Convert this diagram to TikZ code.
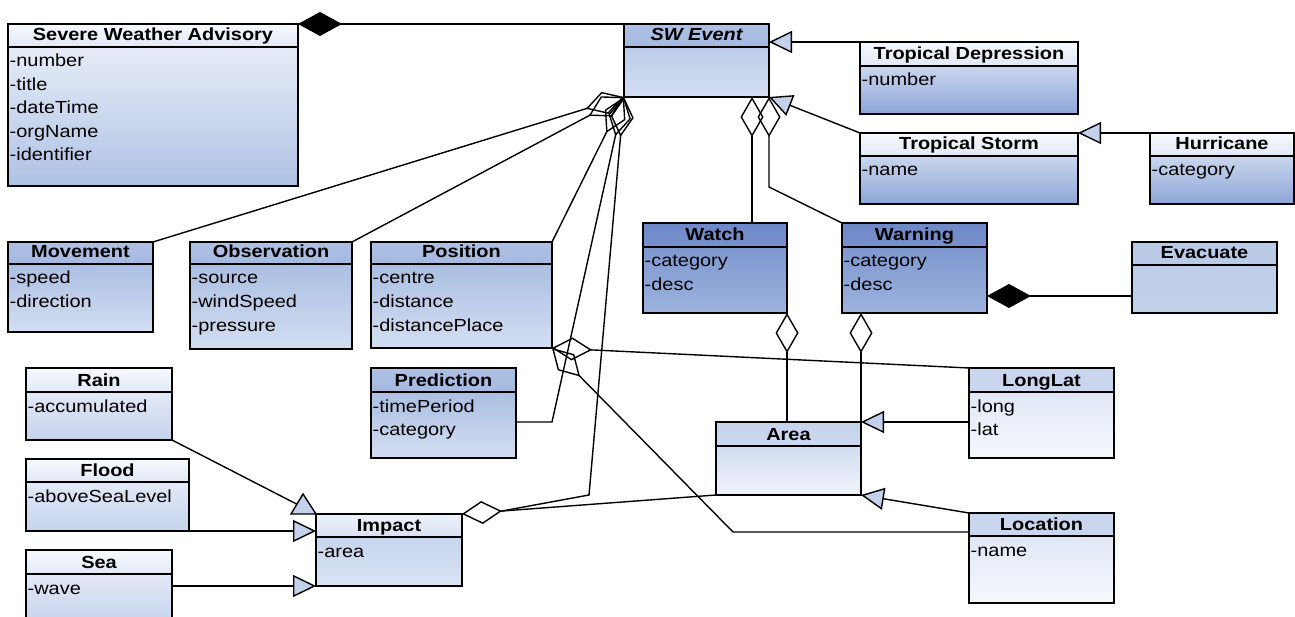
\documentclass[tikz,border=0pt]{standalone}
\usepackage{fontspec}
\setmainfont{Liberation Sans}[FakeStretch=1.14]
\usetikzlibrary{arrows.meta,fit,calc}

\definecolor{hwTop}{HTML}{F7F9FD}\definecolor{hwBot}{HTML}{E1E8F5}
\definecolor{swaTop}{HTML}{E6ECF7}\definecolor{swaBot}{HTML}{AFC2E4}
\definecolor{tdTop}{HTML}{CAD6EE}\definecolor{tdBot}{HTML}{8DA6D8}
\definecolor{midHTop}{HTML}{AEC0E3}\definecolor{midHBot}{HTML}{A5B9E0}
\definecolor{midTop}{HTML}{ABBEE2}\definecolor{midBot}{HTML}{D3DEF1}
\definecolor{sweTop}{HTML}{BCCCE9}\definecolor{sweBot}{HTML}{D3DEF1}
\definecolor{dkHTop}{HTML}{6F88C8}\definecolor{dkHBot}{HTML}{7890CB}
\definecolor{dkTop}{HTML}{7E98CF}\definecolor{dkBot}{HTML}{9DB2DD}
\definecolor{evH}{HTML}{BACBE8}\definecolor{evTop}{HTML}{BDCDE9}\definecolor{evBot}{HTML}{C2D1EA}
\definecolor{rfTop}{HTML}{E3E9F6}\definecolor{rfBot}{HTML}{C5D3EC}
\definecolor{imHTop}{HTML}{EEF2FA}\definecolor{imHBot}{HTML}{D8E1F3}
\definecolor{imTop}{HTML}{C7D5ED}\definecolor{imBot}{HTML}{DAE3F3}
\definecolor{arHTop}{HTML}{C4D3EC}\definecolor{arHBot}{HTML}{CCD8EF}
\definecolor{arTop}{HTML}{D2DDF1}\definecolor{arBot}{HTML}{F1F4FA}
\definecolor{llH}{HTML}{C9D6EE}\definecolor{llTop}{HTML}{E0E7F5}\definecolor{llBot}{HTML}{F5F7FC}
\definecolor{triblue}{HTML}{C3D1EB}

\tikzset{
  hW/.style={top color=hwTop,bottom color=hwBot},
  bSWA/.style={top color=swaTop,bottom color=swaBot},
  bTD/.style={top color=tdTop,bottom color=tdBot},
  hMid/.style={top color=midHTop,bottom color=midHBot},
  bMid/.style={top color=midTop,bottom color=midBot},
  bSWE/.style={top color=sweTop,bottom color=sweBot},
  hDk/.style={top color=dkHTop,bottom color=dkHBot},
  bDk/.style={top color=dkTop,bottom color=dkBot},
  hEv/.style={top color=evH,bottom color=evH},
  bEv/.style={top color=evTop,bottom color=evBot},
  bRF/.style={top color=rfTop,bottom color=rfBot},
  hIm/.style={top color=imHTop,bottom color=imHBot},
  bIm/.style={top color=imTop,bottom color=imBot},
  hAr/.style={top color=arHTop,bottom color=arHBot},
  bAr/.style={top color=arTop,bottom color=arBot},
  hLL/.style={top color=llH,bottom color=llH},
  bLL/.style={top color=llTop,bottom color=llBot},
  boxframe/.style={draw=black,line width=1.6pt,inner sep=0pt,outer sep=0pt},
  divline/.style={draw=black,line width=1.3pt},
  titletext/.style={font=\fontsize{17.5}{20}\selectfont\bfseries,inner sep=0pt},
  attrtext/.style={font=\fontsize{17.5}{20}\selectfont,inner sep=0pt},
  conn/.style={draw=black,line width=1.4pt},
  gen/.style={conn,-{Triangle[length=23pt,width=22pt,fill=triblue]}},
  agg/.style={conn,-{Diamond[open,length=40pt,width=23pt]}},
  comp/.style={conn,-{Diamond[length=44pt,width=24pt]}},
  tri/.style={draw=black,line width=1.4pt,fill=triblue},
}

\newcommand\classbox[9]{%
  \shade[#7] (#2,#3) rectangle (#4,#6);
  \shade[#8] (#2,#6) rectangle (#4,#5);
  \draw[divline] (#2,#6) -- (#4,#6);
  \node[boxframe, fit={(#2,#3) (#4,#5)}] (#1) {};
  \node[titletext, anchor=base] (#1-t) at ({(#2+#4)/2},{#6-6}) {#9};
}
\newcommand\attrs[4]{%
  \foreach \t [count=\i from 0] in {#4}
    \node[attrtext, anchor=base west] (#1-a\i) at ({#2+1.5},{#3+20+23.5*\i}) {\t};
}

\begin{document}
\begin{tikzpicture}[x=1pt,y=-1pt]
\useasboundingbox (0,0) rectangle (1295,617);

% classes
\classbox{swa}{8}{24}{298}{186}{47}{hW}{bSWA}{Severe Weather Advisory}
\attrs{swa}{8}{47}{-number,-title,-dateTime,-orgName,-identifier}
\classbox{swe}{624}{24}{769}{97}{47}{hMid}{bSWE}{\itshape SW Event}
\classbox{td}{860}{42}{1078}{114}{66}{hW}{bTD}{Tropical Depression}
\attrs{td}{860}{66}{-number}
\classbox{ts}{860}{133}{1078}{204}{156}{hW}{bTD}{Tropical Storm}
\attrs{ts}{860}{156}{-name}
\classbox{hur}{1150}{133}{1294}{204}{156}{hW}{bTD}{Hurricane}
\attrs{hur}{1150}{156}{-category}
\classbox{mov}{8}{242}{153}{332}{264}{hMid}{bMid}{Movement}
\attrs{mov}{8}{264}{-speed,-direction}
\classbox{obs}{190}{242}{352}{349}{264}{hMid}{bMid}{Observation}
\attrs{obs}{190}{264}{-source,-windSpeed,-pressure}
\classbox{pos}{371}{242}{552}{348}{264}{hMid}{bMid}{Position}
\attrs{pos}{371}{264}{-centre,-distance,-distancePlace}
\classbox{watch}{643}{223}{787}{313}{247}{hDk}{bDk}{Watch}
\attrs{watch}{643}{247}{-category,-desc}
\classbox{warn}{842}{223}{987}{313}{247}{hDk}{bDk}{Warning}
\attrs{warn}{842}{247}{-category,-desc}
\classbox{evac}{1132}{242}{1277}{313}{265}{hEv}{bEv}{Evacuate}
\classbox{rain}{26}{368}{172}{440}{392}{hW}{bRF}{Rain}
\attrs{rain}{26}{392}{-accumulated}
\classbox{pred}{371}{368}{516}{458}{392}{hMid}{bMid}{Prediction}
\attrs{pred}{371}{392}{-timePeriod,-category}
\classbox{longlat}{969}{368}{1114}{458}{392}{hLL}{bLL}{LongLat}
\attrs{longlat}{969}{392}{-long,-lat}
\classbox{area}{716}{422}{861}{495}{446}{hAr}{bAr}{Area}
\classbox{flood}{26}{459}{189}{531}{482}{hW}{bRF}{Flood}
\attrs{flood}{26}{482}{-aboveSeaLevel}
\classbox{impact}{316}{514}{462}{586}{537}{hIm}{bIm}{Impact}
\attrs{impact}{316}{537}{-area}
\classbox{sea}{26}{550}{172}{625}{574}{hW}{bRF}{Sea}
\attrs{sea}{26}{574}{-wave}
\classbox{loc}{969}{513}{1114}{603}{536}{hLL}{bLL}{Location}
\attrs{loc}{969}{536}{-name}

% helper coordinates
\coordinate (wkA) at (589,495);
\coordinate (wkB) at (552,422);
\coordinate (wkC) at (733,532);

% connectors
\draw[comp] (swe.north west) -- (swa.north east);
\draw[gen] (td.north west) -- (td.north west -| swe.east);
\draw[gen] (ts.north west) -- (swe.south east);
\draw[gen] (hur.north west) -- (ts.north east);
\draw[agg] (watch.north -| 752,0) -- (swe.south -| 752,0);
\draw[agg] (warn.north west) -- (swe.south east |- 0,187) -- (swe.south east);
\draw[agg] (watch.south east |- area.north) -- (watch.south east);
\draw[agg] (area.north east) -- (area.north east |- warn.south);
\draw[comp] (evac.west |- 0,296) -- (warn.east |- 0,296);
\draw[gen] (longlat.west |- area.north) -- (area.north east);
\draw[gen] (loc.north west) -- (area.south east);
\draw[agg] (longlat.north west) -- (pos.south east);
\draw[agg] (loc.west |- wkC) -- (wkC) -- (pos.south east);
\draw[agg] (mov.north east) -- (swe.south west);
\draw[agg] (obs.north east) -- (swe.south west);
\draw[agg] (pos.north east) -- (swe.south west);
\draw[agg] (pred.east |- wkB) -- (wkB) -- (swe.south west);
\draw[agg] (area.south west) -- (impact.north east);
\draw[agg] ($(impact.north east)!40pt!(area.south west)$) -- (wkA) -- (swe.south west);
\draw[conn] (rain.south east) -- (impact.north west);
\filldraw[tri] ($(impact.north west)+(-25,0)$) -- (impact.north west) -- ($(impact.north west)+(-13,-20)$) -- cycle;
\draw[gen] (flood.south east) -- (impact.west |- flood.south east);
\draw[gen] (sea.east |- impact.south west) -- (impact.south west);
\end{tikzpicture}
\end{document}
